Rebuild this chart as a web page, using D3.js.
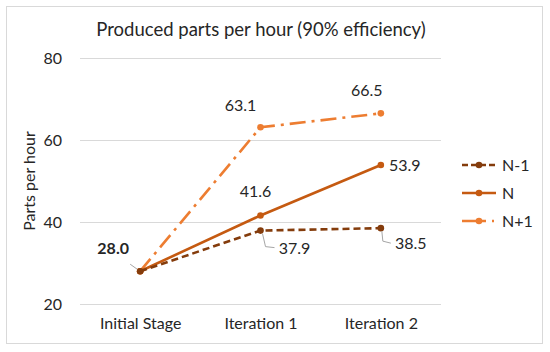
<!DOCTYPE html>
<html>
<head>
<meta charset="utf-8">
<script src="https://cdn.jsdelivr.net/npm/d3@7"></script>
<style>
  body { margin: 0; background: #fff; }
  text { font-family: Lato, "Open Sans", "Noto Sans", sans-serif; fill: #262626; }
</style>
</head>
<body>
<svg id="chart" width="550" height="352"></svg>
<script>
const categories = ['Initial Stage', 'Iteration 1', 'Iteration 2'];
const seriesNames = ['N-1', 'N', 'N+1'];
const valuesNm1 = [28.0, 37.9, 38.5];
const valuesN = [28.0, 41.6, 53.9];
const valuesNp1 = [28.0, 63.1, 66.5];
const yTicks = [20, 40, 60, 80];

const styles = {
  'N-1': { color: '#843C0C', dash: '7,4', legendDash: '6,3' },
  'N':   { color: '#C55A11', dash: null, legendDash: null },
  'N+1': { color: '#ED7D31', dash: '16,6,3,6', legendDash: '24,6,2,6' }
};

const series = seriesNames.map((name, k) => ({ name, values: [valuesNm1, valuesN, valuesNp1][k] }));

const svg = d3.select('#chart');

// outer frame
svg.append('rect')
  .attr('x', 6.5).attr('y', 6.5)
  .attr('width', 536).attr('height', 337)
  .attr('fill', '#fff')
  .attr('stroke', '#d9d9d9');

const margin = { top: 58, left: 80, right: 109, bottom: 48 };
const innerWidth = 550 - margin.left - margin.right;
const innerHeight = 352 - margin.top - margin.bottom;

const g = svg.append('g')
  .attr('transform', `translate(${margin.left},${margin.top})`);

const xScale = d3.scalePoint()
  .domain(categories)
  .range([0, innerWidth])
  .padding(0.5);

const yScale = d3.scaleLinear()
  .domain([20, 80])
  .range([innerHeight, 0]);

svg.append('text')
  .attr('x', 261).attr('y', 36)
  .attr('text-anchor', 'middle')
  .style('font-size', '18.5px')
  .text('Produced parts per hour (90% efficiency)');

const yAxis = d3.axisLeft(yScale)
  .tickValues(yTicks)
  .tickSize(-innerWidth)
  .tickPadding(18);

const yAxisG = g.append('g').call(yAxis);
yAxisG.select('.domain').remove();
yAxisG.selectAll('.tick line').attr('stroke', '#d9d9d9');
yAxisG.selectAll('.tick text').style('font-size', '16px').attr('fill', '#404040');

yAxisG.append('text')
  .attr('transform', 'rotate(-90)')
  .attr('x', -innerHeight / 2)
  .attr('y', -45)
  .attr('text-anchor', 'middle')
  .style('font-size', '16px')
  .text('Parts per hour');

const xAxis = d3.axisBottom(xScale).tickSize(0).tickPadding(14);
const xAxisG = g.append('g')
  .attr('transform', `translate(0,${innerHeight})`)
  .call(xAxis);
xAxisG.select('.domain').remove();
xAxisG.selectAll('.tick text').style('font-size', '16px').attr('fill', '#404040');

const line = d3.line()
  .x((d, i) => xScale(categories[i]))
  .y(d => yScale(d));

// draw N+1 first, N-1 last
[series[2], series[1], series[0]].forEach(s => {
  const st = styles[s.name];
  g.append('path')
    .datum(s.values)
    .attr('fill', 'none')
    .attr('stroke', st.color)
    .attr('stroke-width', 2.6)
    .attr('stroke-dasharray', st.dash)
    .attr('d', line);
  g.selectAll(null).data(s.values).enter().append('circle')
    .attr('cx', (d, i) => xScale(categories[i]))
    .attr('cy', d => yScale(d))
    .attr('r', 3.3)
    .attr('fill', st.color);
});

// data labels: offsets from the point, leader polyline offsets
const labels = [
  { v: valuesN[0], i: 0, dx: -27, dy: -17, bold: true, leader: [[-3, -2], [-10, -7]] },
  { v: valuesN[1], i: 1, dx: -5, dy: -18 },
  { v: valuesNp1[1], i: 1, dx: -20, dy: -16 },
  { v: valuesNp1[2], i: 2, dx: -14, dy: -17 },
  { v: valuesN[2], i: 2, dx: 24, dy: 6 },
  { v: valuesNm1[1], i: 1, dx: 34, dy: 23, leader: [[2, 3], [5, 16], [14, 17]] },
  { v: valuesNm1[2], i: 2, dx: 30, dy: 21, leader: [[1, 3], [2, 13], [10, 15]] }
];

labels.forEach(l => {
  const px = xScale(categories[l.i]);
  const py = yScale(l.v);
  if (l.leader) {
    g.append('path')
      .attr('d', d3.line()(l.leader.map(p => [px + p[0], py + p[1]])))
      .attr('fill', 'none')
      .attr('stroke', '#a6a6a6')
      .attr('stroke-width', 1);
  }
  g.append('text')
    .attr('x', px + l.dx)
    .attr('y', py + l.dy)
    .attr('text-anchor', 'middle')
    .style('font-size', '16px')
    .style('font-weight', l.bold ? 'bold' : 'normal')
    .attr('fill', l.bold ? '#000' : '#404040')
    .text(l.v.toFixed(1));
});

// legend
const legend = svg.append('g').attr('transform', 'translate(462,165)');
series.forEach((s, k) => {
  const st = styles[s.name];
  const row = legend.append('g').attr('transform', `translate(0,${k * 28})`);
  row.append('line')
    .attr('x1', 0).attr('x2', 34).attr('y1', 0).attr('y2', 0)
    .attr('stroke', st.color)
    .attr('stroke-width', 2.6)
    .attr('stroke-dasharray', st.legendDash);
  row.append('circle').attr('cx', 17).attr('cy', 0).attr('r', 3.3).attr('fill', st.color);
  row.append('text')
    .attr('x', 40).attr('y', 6)
    .style('font-size', '16px')
    .attr('fill', '#404040')
    .text(s.name);
});
</script>
</body>
</html>
